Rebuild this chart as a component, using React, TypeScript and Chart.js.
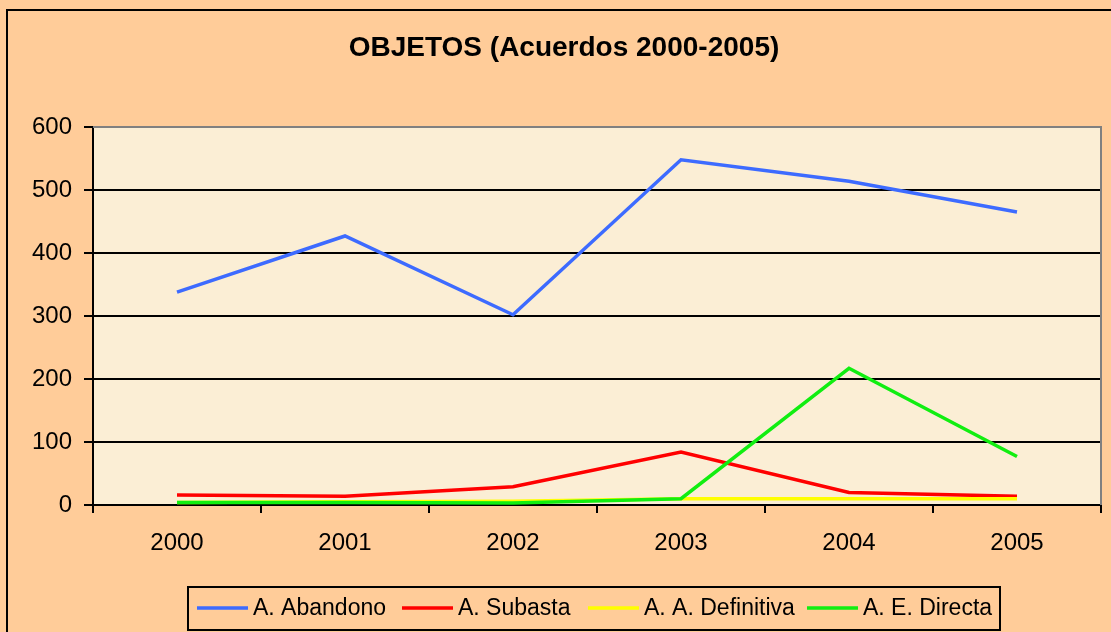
import React, { useEffect, useRef } from "react";
import { Chart, registerables } from "chart.js";

Chart.register(...registerables);

const title = "OBJETOS (Acuerdos 2000-2005)";
const years = ["2000", "2001", "2002", "2003", "2004", "2005"];
const seriesNames = ["A. Abandono", "A. Subasta", "A. A. Definitiva", "A. E. Directa"];
const abandono = [338, 427, 302, 548, 514, 465];
const subasta = [16, 14, 29, 84, 20, 14];
const definitiva = [4, 5, 6, 10, 10, 10];
const directa = [4, 4, 3, 10, 217, 77];
const seriesColors = ["#3D6BFF", "#FF0000", "#FFFF00", "#11EE11"];
const legendStarts = [197, 402, 588, 807];
const yMin = 0;
const yMax = 600;
const yStep = 100;

const FONT = "'Liberation Sans', Arial, sans-serif";

const decorPlugin = {
  id: "decor",
  beforeDraw(chart: any) {
    const ctx = chart.ctx;
    const { width, height } = chart;
    const a = chart.chartArea;
    ctx.save();
    ctx.fillStyle = "#FFCC99";
    ctx.fillRect(0, 0, width, height);
    ctx.strokeStyle = "#000";
    ctx.lineWidth = 2;
    ctx.strokeRect(7, 10, width + 20, height + 20);
    ctx.fillStyle = "#FBEED5";
    ctx.fillRect(a.left, a.top, a.right - a.left, a.bottom - a.top);
    ctx.fillStyle = "#000";
    ctx.font = `bold 28px ${FONT}`;
    ctx.textAlign = "center";
    ctx.textBaseline = "middle";
    ctx.fillText(title, 564, 48);
    ctx.restore();
  },
  afterDraw(chart: any) {
    const ctx = chart.ctx;
    const a = chart.chartArea;
    ctx.save();
    ctx.strokeStyle = "#808080";
    ctx.lineWidth = 2;
    ctx.beginPath();
    ctx.moveTo(a.left, a.top);
    ctx.lineTo(a.right, a.top);
    ctx.lineTo(a.right, a.bottom);
    ctx.stroke();
    const boxL = 188, boxT = 587, boxR = 1000, boxB = 630;
    ctx.strokeStyle = "#000";
    ctx.lineWidth = 2;
    ctx.strokeRect(boxL, boxT, boxR - boxL, boxB - boxT);
    ctx.font = `23px ${FONT}`;
    ctx.textBaseline = "middle";
    ctx.textAlign = "left";
    const y = 608;
    seriesNames.forEach((name, i) => {
      const x = legendStarts[i];
      ctx.strokeStyle = seriesColors[i];
      ctx.lineWidth = 3.5;
      ctx.beginPath();
      ctx.moveTo(x, y);
      ctx.lineTo(x + 51, y);
      ctx.stroke();
      ctx.fillStyle = "#000";
      ctx.fillText(name, x + 56, y + 1);
    });
    ctx.restore();
  },
};

export default function App() {
  const ref = useRef<HTMLCanvasElement | null>(null);
  useEffect(() => {
    if (!ref.current) return;
    const values = [abandono, subasta, definitiva, directa];
    const chart = new Chart(ref.current, {
      type: "line",
      data: {
        labels: years,
        datasets: seriesNames.map((name, i) => ({
          label: name,
          data: values[i],
          borderColor: seriesColors[i],
          backgroundColor: seriesColors[i],
          borderWidth: 3.5,
          pointRadius: 0,
          fill: false,
          tension: 0,
          order: seriesNames.length - i,
        })),
      },
      options: {
        responsive: false,
        devicePixelRatio: 1,
        animation: false,
        layout: { padding: { top: 127, right: 10, left: 0, bottom: 0 } },
        plugins: {
          legend: { display: false },
          title: { display: false },
          tooltip: { enabled: false },
        },
        scales: {
          x: {
            offset: true,
            afterFit: (s: any) => {
              s.height = 127;
            },
            grid: {
              offset: true,
              drawOnChartArea: false,
              drawTicks: true,
              tickLength: 8,
              color: "#000",
              lineWidth: 2,
            },
            border: { display: true, color: "#000", width: 2 },
            ticks: {
              color: "#000",
              font: { family: FONT, size: 24 },
              padding: 16,
              maxRotation: 0,
            },
          },
          y: {
            min: yMin,
            max: yMax,
            afterFit: (s: any) => {
              s.width = 93;
            },
            grid: {
              color: "#000",
              lineWidth: 2,
              drawTicks: true,
              tickLength: 9,
            },
            border: { display: true, color: "#000", width: 2 },
            ticks: {
              stepSize: yStep,
              color: "#000",
              font: { family: FONT, size: 24 },
              padding: 12,
            },
          },
        },
      },
      plugins: [decorPlugin],
    });
    return () => chart.destroy();
  }, []);
  return (
    <div style={{ position: "fixed", left: 0, top: 0, width: 1111, height: 632 }}>
      <canvas ref={ref} width={1111} height={632} style={{ width: 1111, height: 632, display: "block" }} />
    </div>
  );
}
